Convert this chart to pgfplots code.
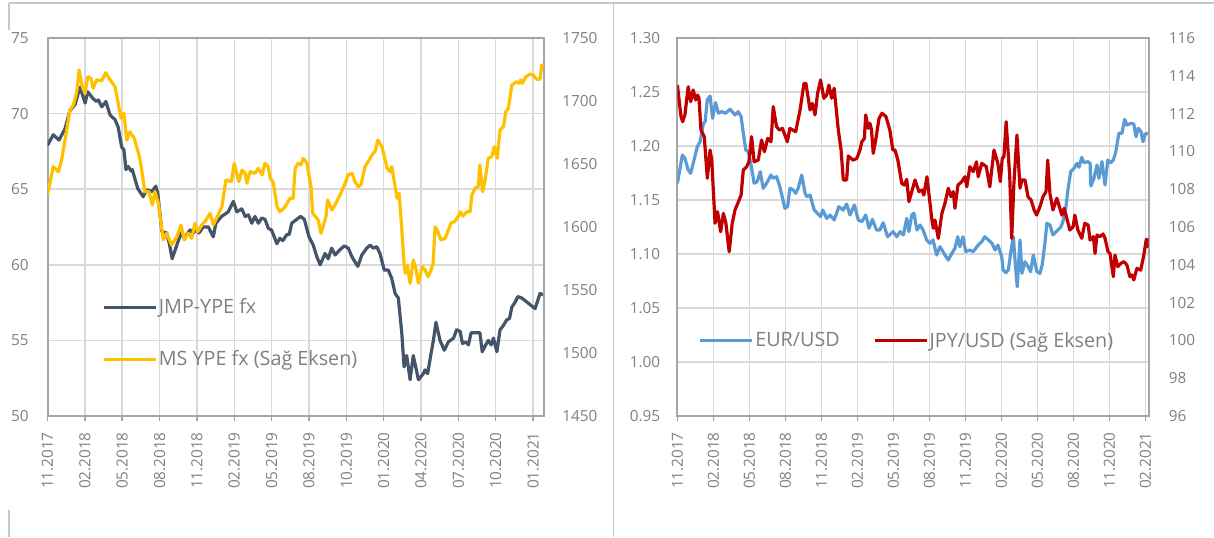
\documentclass[border=0pt]{standalone}
\usepackage{fontspec}
\setmainfont{Open Sans}
\usepackage{pgfplots}
\pgfplotsset{compat=1.18}
\definecolor{jmp}{HTML}{44546A}
\definecolor{ms}{HTML}{FFC000}
\definecolor{eur}{HTML}{5B9BD5}
\definecolor{jpy}{HTML}{C00000}
\definecolor{gridc}{HTML}{D9D9D9}
\definecolor{framec}{HTML}{A6A6A6}
\definecolor{txt}{HTML}{7F7F7F}
\definecolor{outc}{HTML}{C8C8C8}
\pgfplotsset{
  base/.style={
    scale only axis, height=283.5pt,
    tick label style={font=\fontsize{11.5}{13}\selectfont, text=txt},
    /pgf/number format/assume math mode=true,
    ytick style={draw=none},
    yticklabel style={inner sep=0pt},
    axis line style={framec, line width=1.5pt},
  },
  prim/.style={base,
    grid=major, grid style={gridc, line width=1.1pt},
    xtick pos=left, xtick align=outside, major tick length=4pt,
    xtick style={framec, line width=1.1pt},
    xticklabel style={rotate=90, anchor=east, inner sep=0pt},
    xticklabel shift=8pt,
    yticklabel style={anchor=east},
  },
  sec/.style={base,
    axis y line*=right, axis x line=none,
    yticklabel style={anchor=west},
  },
  leg/.style={legend style={draw=none, fill=none, inner sep=0pt,
    font=\fontsize{14.8}{17}\selectfont, text=txt,
    nodes={inner sep=1pt}},
    legend cell align=left,
    legend image code/.code={\draw[##1] (0pt,0pt) -- (39pt,0pt);}},
}
\begin{document}
\begin{tikzpicture}
\path[use as bounding box] (0,0) rectangle (910.5pt,402.75pt);
\draw[outc, line width=1.1pt] (6.75pt,400.5pt) -- (910.5pt,400.5pt);
\draw[outc, line width=1.1pt] (460.1pt,0pt) -- (460.1pt,400.5pt);
\draw[outc, line width=1.1pt] (6.75pt,0pt) -- (6.75pt,20.25pt);
\draw[outc, line width=1.1pt] (6.75pt,380.25pt) -- (6.75pt,400.5pt);

% ---------------- left panel, left axis
\begin{axis}[prim, at={(35.625pt,90.75pt)}, anchor=south west, width=372.375pt,
  xmin=0, xmax=172.8, ymin=50, ymax=75,
  xtick={0,13,26,39,52,65,78,91,104,117,130,143,156,169},
  xticklabels={11.2017,02.2018,05.2018,08.2018,11.2018,02.2019,05.2019,08.2019,10.2019,01.2020,04.2020,07.2020,10.2020,01.2021},
  ytick={50,55,60,65,70,75}, yticklabels={50,55,60,65,70,75},
  yticklabel shift=14pt]
\addplot[jmp, line width=2.4pt, line join=round] coordinates {
(0,67.9)(2.0,68.6)(4.0,68.25)(6.1,69.0)(7.8,70.2)(9.6,70.6)(11.3,71.75)(13.1,70.7)(14.0,71.45)(15.8,71.0)(17.1,70.8)(17.7,70.9)(18.9,70.45)(20.3,70.8)(21.8,69.9)(23.5,69.6)(24.6,69.1)(25.8,67.8)(26.6,67.6)(27.3,66.3)(28.1,66.5)(29.1,66.2)(29.5,66.3)(31.4,65.05)(33.3,64.5)(34.5,64.95)(36.3,64.85)(37.7,65.2)(38.4,64.7)(39.8,62.2)(41.5,62.1)(42.4,61.4)(43.4,60.4)(45.0,61.3)(46.5,62.1)(47.6,61.75)(49.6,62.3)(50.8,62.1)(51.9,62.4)(52.7,62.1)(54.2,62.5)(56.0,62.5)(57.7,61.85)(58.6,62.75)(60.6,63.2)(62.9,63.5)(64.7,64.2)(65.9,63.5)(67.6,63.7)(68.8,63.2)(69.9,63.3)(71.1,62.75)(72.2,63.2)(73.4,62.75)(74.6,63.1)(75.7,63.0)(76.9,62.4)(78.0,62.3)(79.8,61.4)(80.9,61.75)(81.9,61.6)(83.3,62.0)(84.1,62.0)(85.0,62.75)(86.7,63.0)(88.1,63.2)(89.4,63.0)(91.0,61.85)(92.5,61.3)(93.7,60.55)(94.9,60.0)(96.6,60.75)(97.7,60.4)(98.9,61.1)(100.1,60.65)(101.8,61.0)(103.3,61.25)(104.7,61.1)(105.9,60.55)(107.0,60.2)(108.0,59.9)(109.4,60.65)(111.1,61.1)(112.3,61.3)(113.4,61.1)(114.6,61.2)(115.7,60.75)(117.2,59.65)(118.6,59.65)(119.8,59.1)(121.0,58.1)(122.1,57.8)(123.3,55.5)(124.1,53.25)(125.0,54.0)(126.2,52.4)(127.3,54.0)(129.1,52.4)(130.8,52.8)(131.4,53.05)(132.3,52.8)(133.5,54.15)(134.3,55.0)(135.2,56.2)(136.6,55.0)(138.1,54.35)(139.5,54.9)(141.3,55.15)(142.4,55.7)(143.6,55.6)(144.4,54.8)(145.6,54.9)(146.5,54.7)(147.4,55.5)(150.5,55.5)(151.3,54.25)(152.5,54.7)(153.4,55.0)(154.4,54.7)(155.2,55.15)(156.4,54.25)(157.5,55.7)(158.7,56.0)(159.8,56.35)(160.8,56.45)(161.6,57.2)(162.5,57.45)(163.7,57.9)(165.1,57.8)(167.4,57.45)(169.7,57.1)(171.4,58.1)(172.8,58.0)
};
\end{axis}
% ---------------- left panel, right axis
\begin{axis}[sec, leg, at={(35.625pt,90.75pt)}, anchor=south west, width=372.375pt,
  xmin=0, xmax=172.8, ymin=1450, ymax=1750,
  ytick={1450,1500,1550,1600,1650,1700,1750},
  yticklabels={1450,1500,1550,1600,1650,1700,1750},
  yticklabel shift=13.5pt,
  legend style={at={(0.11,0.219)}, anchor=west, row sep=24pt}]
\addlegendimage{jmp, line width=2.4pt}
\addlegendentry{JMP-YPE fx}
\addplot[ms, line width=2.4pt, line join=round] coordinates {
(0,1625.4)(2.0,1647.9)(3.8,1643.9)(4.9,1653.2)(6.4,1673)(7.8,1692.9)(9.0,1696.8)(10.2,1707.4)(11.0,1724.6)(12.1,1711.3)(13.1,1706.1)(14.0,1719.3)(15.1,1718.0)(15.9,1710.1)(17.1,1716.7)(18.9,1716.1)(20.3,1722.5)(21.8,1716.7)(23.5,1711.3)(24.6,1698.2)(25.6,1686.3)(26.6,1690.2)(27.6,1669.0)(28.7,1675.6)(30.2,1670.4)(32.0,1655.8)(32.8,1645.2)(33.9,1628.0)(35.3,1628.0)(36.5,1617.5)(37.4,1628)(38.6,1618.8)(40.3,1589.7)(41.5,1595.0)(43.2,1585.7)(45.0,1592.3)(46.5,1601.6)(47.6,1589.7)(49.0,1595)(50.2,1591)(51.3,1603)(52.3,1596.3)(53.7,1601.6)(54.8,1604.2)(56.6,1610.9)(57.7,1601.6)(60.7,1616.1)(62.1,1637.3)(64.0,1636)(65.0,1650.6)(66.6,1636)(67.7,1645.2)(68.8,1642.6)(69.4,1634.7)(70.5,1643.9)(72.2,1642.6)(73.4,1646.6)(74.7,1641.3)(75.7,1650.6)(76.8,1647.9)(77.5,1638.6)(78.5,1636)(79.9,1616.1)(80.9,1612.1)(82.7,1616.1)(84.4,1622.8)(85.5,1622.8)(86.2,1646.6)(87.2,1650.6)(88.2,1649.2)(89.0,1654.5)(90.3,1650.6)(91.7,1632)(92.3,1610.9)(94.2,1605.6)(95.2,1595)(96.9,1608.2)(97.5,1621.4)(99.0,1613.5)(100.1,1617.5)(101.8,1625.4)(103.6,1634.7)(104.6,1641.3)(106.0,1642.6)(107.0,1636)(108.1,1632)(109.1,1633.3)(110.5,1647.9)(112.3,1654.5)(113.3,1658.5)(114.0,1659.8)(115.0,1669)(116.4,1663.7)(118.2,1646.6)(119.2,1643.9)(119.8,1647.9)(121.0,1632)(121.7,1622.8)(122.4,1626.7)(123.4,1595)(124.1,1571.2)(124.5,1563.3)(125.2,1569.8)(126.2,1555.3)(127.3,1573.8)(128.3,1565.9)(129.1,1555.3)(130.4,1568.5)(131.4,1565.9)(132.5,1560.6)(133.5,1565.9)(134.2,1571.2)(134.9,1600.2)(135.9,1596.3)(136.9,1589.7)(138.4,1591)(139.5,1597.6)(140.5,1603.4)(141.7,1604.2)(142.9,1608.2)(143.6,1612.1)(144.6,1608.7)(145.9,1612.1)(147.1,1612.1)(147.7,1625.4)(148.8,1630.7)(149.9,1632)(150.5,1649.2)(151.4,1628)(152.3,1637.3)(153.4,1654.5)(154.6,1655.8)(155.5,1663.7)(156.5,1654.5)(157.5,1677)(158.7,1679.6)(159.5,1691.5)(160.4,1694.2)(161.6,1712.7)(163.3,1715.3)(164.1,1714.0)(164.7,1716.7)(165.3,1714)(166.5,1719.3)(168.0,1721.4)(169.0,1720.6)(170.3,1717.2)(171.4,1717.2)(172.0,1728.6)(172.8,1727.2)
};
\addlegendentry{MS YPE fx (Sağ Eksen)}
\end{axis}

% ---------------- right panel, left axis
\begin{axis}[prim, at={(508.05pt,90.75pt)}, anchor=south west, width=353.325pt,
  xmin=0, xmax=170.1, ymin=0.95, ymax=1.30,
  xtick={0,13,26,39,52,65,78,91,104,117,130,143,156,169},
  xticklabels={11.2017,02.2018,05.2018,08.2018,11.2018,02.2019,05.2019,08.2019,11.2019,02.2020,05.2020,08.2020,11.2020,02.2021},
  ytick={0.95,1,1.05,1.1,1.15,1.2,1.25,1.3},
  yticklabels={0.95,1.00,1.05,1.10,1.15,1.20,1.25,1.30},
  yticklabel shift=12.75pt]
\addplot[eur, line width=2.4pt, line join=round] coordinates {
(0,1.1655)(1.8,1.1917)(2.7,1.1886)(3.9,1.1778)(4.8,1.1747)(6.0,1.187)(7.2,1.1994)(8.2,1.204)(9.4,1.221)(10.0,1.2225)(10.8,1.2426)(11.8,1.2463)(12.7,1.2257)(13.8,1.2401)(14.8,1.2303)(16.0,1.2318)(17.4,1.2303)(19.0,1.234)(20.8,1.2287)(22.0,1.2318)(23.0,1.2271)(23.8,1.2118)(24.7,1.1963)(25.6,1.1947)(26.6,1.1824)(27.7,1.1655)(28.8,1.167)(29.9,1.1762)(31.0,1.1608)(32.2,1.1655)(33.8,1.1731)(34.6,1.1701)(35.8,1.1716)(37.0,1.1623)(38.8,1.1423)(39.8,1.1438)(40.6,1.1608)(41.8,1.1593)(42.7,1.1562)(43.6,1.1608)(44.9,1.1731)(46.1,1.1562)(46.7,1.1531)(47.9,1.1546)(49.4,1.1407)(50.6,1.1377)(51.7,1.1346)(52.5,1.1407)(53.9,1.133)(55.1,1.1361)(56.6,1.1315)(58.3,1.1438)(59.9,1.1407)(61.1,1.1463)(62.3,1.1361)(63.9,1.1454)(65.3,1.1315)(66.6,1.1299)(68.0,1.1361)(69.2,1.1238)(70.4,1.1321)(71.9,1.1222)(73.1,1.1222)(74.3,1.129)(75.9,1.116)(77.9,1.1207)(79.2,1.116)(80.4,1.1207)(81.6,1.1176)(82.8,1.133)(83.6,1.1207)(84.6,1.1361)(85.4,1.1377)(86.5,1.1222)(87.6,1.1269)(88.7,1.1222)(90.0,1.113)(91.2,1.1099)(92.3,1.113)(93.6,1.0991)(94.8,1.1068)(96.6,1.0991)(97.8,1.0944)(99.1,1.1006)(100.2,1.1053)(101.2,1.116)(102.0,1.1068)(103.1,1.116)(104.1,1.1022)(105.6,1.1037)(106.8,1.1022)(108.6,1.1083)(109.9,1.1114)(111.0,1.116)(113.6,1.1099)(114.7,1.1037)(115.7,1.1083)(117.1,1.0975)(117.6,1.0852)(118.6,1.0827)(119.5,1.0852)(120.4,1.1022)(121.3,1.116)(121.9,1.0944)(122.7,1.0697)(123.7,1.113)(124.4,1.0821)(125.5,1.0929)(126.6,1.0883)(127.5,1.0836)(128.5,1.0991)(129.8,1.0836)(130.9,1.0821)(131.7,1.0898)(132.7,1.1099)(133.4,1.1284)(134.5,1.1269)(135.6,1.1176)(137.4,1.1222)(138.5,1.1253)(139.2,1.1299)(140.3,1.1438)(141.0,1.1593)(142.0,1.1762)(143.2,1.1793)(144.3,1.184)(145.0,1.1803)(146.0,1.1895)(146.8,1.1846)(148.3,1.1855)(149.0,1.184)(149.3,1.163)(150.4,1.1701)(151.5,1.1824)(152.2,1.1701)(153.3,1.1855)(154.4,1.1639)(155.4,1.187)(156.5,1.1846)(157.4,1.187)(158.3,1.1947)(159.4,1.2118)(160.5,1.2118)(161.5,1.2247)(162.3,1.2194)(163.8,1.221)(164.8,1.2204)(165.6,1.2086)(166.4,1.2164)(167.4,1.2133)(168.1,1.204)(168.9,1.2111)(170.1,1.2118)
};
\end{axis}
% ---------------- right panel, right axis
\begin{axis}[sec, leg, at={(508.05pt,90.75pt)}, anchor=south west, width=353.325pt,
  xmin=0, xmax=170.1, ymin=96, ymax=116,
  ytick={96,98,100,102,104,106,108,110,112,114,116},
  yticklabels={96,98,100,102,104,106,108,110,112,114,116},
  yticklabel shift=15pt,
  legend columns=2,
  legend style={at={(0.045,0.199)}, anchor=west,
    /tikz/every even column/.append style={column sep=24pt}}]
\addlegendimage{eur, line width=2.4pt}
\addlegendentry{EUR/USD}
\addplot[jpy, line width=2.4pt, line join=round] coordinates {
(0,113.5)(1.3,111.84)(1.9,111.57)(2.7,111.93)(3.9,113.42)(4.8,112.63)(5.7,113.25)(6.6,112.72)(7.3,112.98)(7.8,112.81)(8.5,111.13)(9.7,110.78)(10.8,108.58)(11.8,110.07)(12.4,109.54)(13.6,106.2)(14.5,106.81)(15.6,105.75)(16.6,106.72)(17.5,106.2)(18.7,104.69)(19.8,106.2)(20.8,106.9)(21.8,107.25)(23.0,107.69)(23.8,109.02)(25.0,109.19)(25.8,109.45)(26.8,110.78)(27.7,109.45)(29.2,109.54)(30.4,110.6)(31.4,109.98)(32.6,110.69)(33.8,110.51)(34.6,112.37)(35.8,111.31)(36.8,111.13)(37.9,111.22)(39.7,110.51)(40.6,111.22)(42.7,111.04)(44.3,112.19)(45.7,113.6)(46.4,113.6)(47.9,112.19)(48.7,112.54)(49.7,111.93)(50.6,113.07)(51.7,113.78)(52.9,112.81)(53.9,112.98)(54.7,113.51)(55.7,112.81)(56.6,113.34)(58.1,111.13)(59.1,110.07)(59.9,108.49)(61.1,108.49)(61.7,109.76)(63.4,109.54)(64.8,109.63)(65.9,110.07)(66.6,110.51)(67.5,110.69)(68.0,111.93)(68.9,111.22)(69.5,111.49)(70.1,111.13)(70.7,109.9)(71.6,110.6)(72.8,111.75)(73.9,112.02)(75.3,111.84)(76.7,111.13)(77.8,110.07)(78.6,110.07)(79.6,109.54)(81.0,108.31)(81.9,108.22)(82.8,108.52)(83.6,107.34)(85.8,108.49)(87.2,107.87)(88.3,107.96)(89.0,107.69)(90.1,108.66)(91.9,106.37)(92.4,105.93)(93.0,106.37)(94.2,105.4)(95.5,106.72)(96.6,107.25)(97.8,108.05)(98.8,107.6)(99.6,107.87)(100.2,106.99)(101.3,108.22)(102.7,108.4)(103.8,108.66)(104.5,108.13)(105.6,109.19)(106.8,108.93)(108.0,109.45)(108.6,108.66)(109.9,109.37)(111.5,109.2)(112.8,108.13)(114.3,110.07)(115.7,109.37)(116.6,108.4)(117.3,109.63)(117.9,109.72)(118.7,111.57)(120.0,108.66)(120.7,105.4)(121.5,108.31)(122.6,110.87)(123.7,108.05)(124.4,108.49)(125.5,108.49)(126.6,107.6)(127.7,107.43)(128.8,106.9)(129.7,106.63)(130.9,107.07)(132.0,107.6)(133.1,107.87)(133.7,109.54)(134.5,107.78)(135.6,106.9)(137.0,107.52)(138.1,106.99)(138.8,106.63)(139.6,106.99)(140.3,106.63)(141.7,105.84)(142.9,106.02)(143.5,106.63)(144.6,105.84)(146.0,105.4)(147.1,106.2)(148.3,106.1)(149.0,105.31)(150.2,105.49)(150.8,104.6)(151.5,105.58)(152.6,105.49)(153.7,105.63)(154.4,105.4)(155.5,104.69)(156.2,104.6)(157.4,103.37)(158.0,104.52)(159.0,103.9)(160.2,104.08)(161.2,104.17)(162.3,103.99)(163.4,103.37)(164.1,103.46)(164.8,103.2)(165.9,103.81)(167.3,103.72)(168.4,104.52)(169.3,105.35)(169.8,104.96)(170.1,105.4)
};
\addlegendentry{JPY/USD (Sağ Eksen)}
\end{axis}
\end{tikzpicture}
\end{document}
